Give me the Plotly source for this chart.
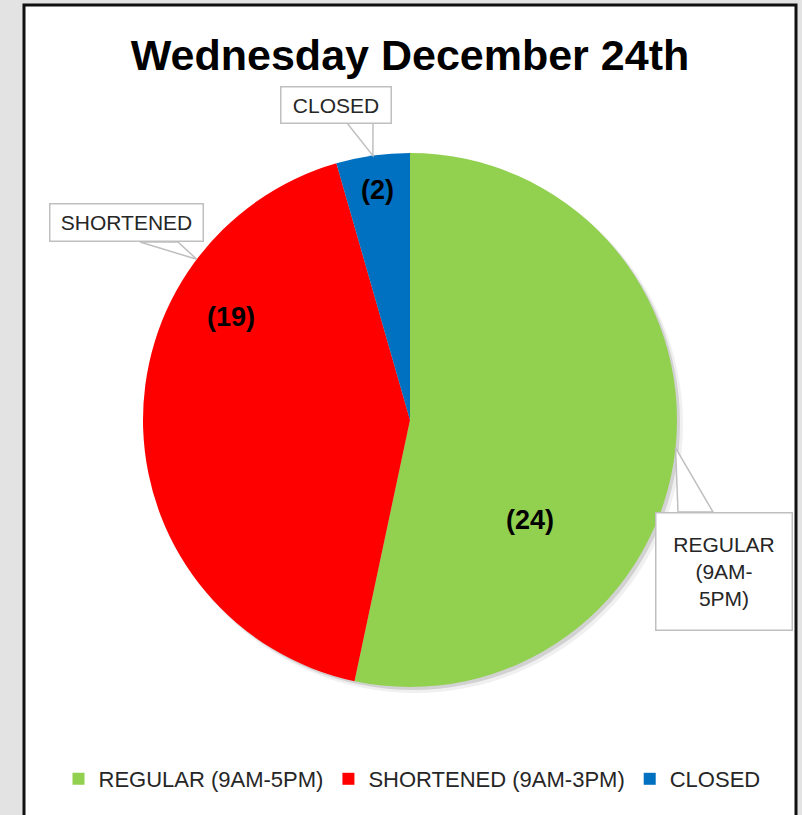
import math
import plotly.graph_objects as go

labels = ["REGULAR (9AM-5PM)", "SHORTENED (9AM-3PM)", "CLOSED"]
values = [24, 19, 2]
callout_text = ["REGULAR<br>(9AM-<br>5PM)", "SHORTENED", "CLOSED"]
colors = ["#92D050", "#FF0000", "#0070C0"]

W, H = 802, 815
CX, CY, R = 410, 420, 267   # pie centre / radius in pixels
FONT = "Liberation Sans, Arial, sans-serif"
GREY_LINE = "#bfbfbf"


def px(x, y):
    # pixel position -> paper coords
    return x / W, 1 - y / H


def edge(angle, frac=1.0):
    # clockwise angle from 12 o'clock -> pixel point
    a = math.radians(angle)
    return CX + frac * R * math.sin(a), CY - frac * R * math.cos(a)


# slice mid angles from the data
total = sum(values)
mids, start = [], 0.0
for v in values:
    span = 360 * v / total
    mids.append(start + span / 2)
    start += span

# where Excel put the bold value labels (angle, radius fraction)
label_at = [(130, 0.585), (300, 0.775), (mids[2], 0.87)]
# callout boxes: tip angle, box centre px, box size px, pointer base px
callouts = [
    (mids[0], (724, 571), (137, 118), ((678, 512), (713, 512))),
    (307, (127, 223), (154, 38), ((140, 242), (178, 242))),
    (mids[2], (336, 105), (111, 37), ((347, 123), (373, 123))),
]

x0, y1 = px(CX - R, CY - R)
x1, y0 = px(CX + R, CY + R)

fig = go.Figure(go.Pie(labels=labels, values=values, sort=False, direction="clockwise", rotation=0,
                       marker=dict(colors=colors, line=dict(width=0)), textinfo="none",
                       hoverinfo="label+value", domain=dict(x=[x0, x1], y=[y0, y1])))

shapes = []
# white card with black frame
fx0, fy0 = px(24, 5)
fx1, fy1 = px(796, 830)
shapes.append(dict(type="rect", xref="paper", yref="paper", x0=fx0, y0=fy1, x1=fx1, y1=fy0,
                   fillcolor="white", line=dict(color="#111111", width=3), layer="below"))
# soft shadow behind the pie
for off, grow, alpha in [(5, 1, 0.06), (3, 0, 0.12)]:
    sx0, sy1 = px(CX - R - grow + off, CY - R - grow + off)
    sx1, sy0 = px(CX + R + grow + off, CY + R + grow + off)
    shapes.append(dict(type="circle", xref="paper", yref="paper", x0=sx0, y0=sy0, x1=sx1, y1=sy1,
                       fillcolor=f"rgba(0,0,0,{alpha})", line=dict(width=0), layer="below"))

annotations = []
for (ang, frac), v in zip(label_at, values):
    lx, ly = px(*edge(ang, frac))
    annotations.append(dict(x=lx, y=ly, xref="paper", yref="paper", text=f"<b>({v})</b>",
                            xanchor="center", yanchor="middle", showarrow=False,
                            font=dict(family=FONT, size=27, color="black")))

for txt, (ang, (bx, by), (bw, bh), (b1, b2)) in zip(callout_text, callouts):
    tx, ty = px(*edge(ang))
    p1, p2 = px(*b1), px(*b2)
    shapes.append(dict(type="path", xref="paper", yref="paper",
                       path=f"M {tx},{ty} L {p1[0]},{p1[1]} L {p2[0]},{p2[1]} Z",
                       fillcolor="white", line=dict(color=GREY_LINE, width=1.5)))
    cx_, cy_ = px(bx, by)
    annotations.append(dict(x=cx_, y=cy_, xref="paper", yref="paper", text=txt, showarrow=False,
                            xanchor="center", yanchor="middle",
                            width=bw - 4, height=bh - 4, borderpad=1, bgcolor="white",
                            bordercolor=GREY_LINE, borderwidth=1.5, align="center", valign="middle",
                            font=dict(family=FONT, size=21, color="#262626")))

tx_, ty_ = px(410, 55)
fig.update_layout(
    width=W, height=H, margin=dict(l=0, r=0, t=0, b=0, pad=0),
    paper_bgcolor="#e3e3e3", plot_bgcolor="white",
    title=dict(text="<b>Wednesday December 24th</b>", x=tx_, y=ty_, xref="paper", yref="paper",
               xanchor="center", yanchor="middle", font=dict(family=FONT, size=43, color="black")),
    legend=dict(orientation="h", x=px(412, 0)[0], xanchor="center", y=px(0, 779)[1], yanchor="middle",
                font=dict(family=FONT, size=22, color="#262626"), bgcolor="rgba(0,0,0,0)",
                itemclick=False),
    shapes=shapes, annotations=annotations,
)

# drop the page's default body margin so the figure sits at the window's corner
fig.write_html("out.html", config={"displayModeBar": False},
               post_script="document.body.style.margin='0';")
